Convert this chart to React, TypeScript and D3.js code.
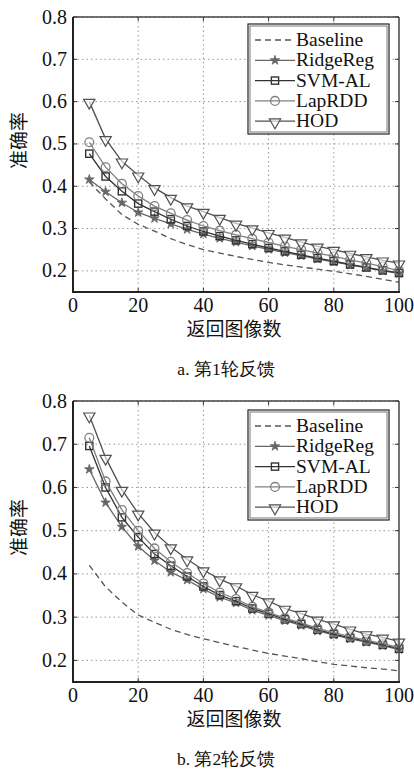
import React from 'react'
import * as d3 from 'd3'

// returned images (x axis)
const returnedImages = [5, 10, 15, 20, 25, 30, 35, 40, 45, 50, 55, 60, 65, 70, 75, 80, 85, 90, 95, 100]
const xTicks = [0, 20, 40, 60, 80, 100]
const yTicks = [0.2, 0.3, 0.4, 0.5, 0.6, 0.7, 0.8]
const seriesNames = ['Baseline', 'RidgeReg', 'SVM-AL', 'LapRDD', 'HOD']

// round 1 feedback
const r1Baseline = [0.41, 0.37, 0.333, 0.31, 0.294, 0.276, 0.262, 0.25, 0.242, 0.234, 0.227, 0.22, 0.214, 0.209, 0.204, 0.199, 0.193, 0.187, 0.18, 0.173]
const r1RidgeReg = [0.416, 0.387, 0.361, 0.338, 0.324, 0.311, 0.298, 0.287, 0.277, 0.268, 0.259, 0.251, 0.243, 0.236, 0.228, 0.221, 0.214, 0.207, 0.2, 0.194]
const r1SvmAl = [0.477, 0.423, 0.388, 0.359, 0.34, 0.322, 0.306, 0.293, 0.282, 0.272, 0.263, 0.254, 0.246, 0.238, 0.23, 0.223, 0.215, 0.208, 0.201, 0.195]
const r1LapRdd = [0.504, 0.445, 0.406, 0.377, 0.353, 0.336, 0.32, 0.306, 0.295, 0.285, 0.276, 0.267, 0.258, 0.25, 0.242, 0.234, 0.226, 0.218, 0.21, 0.2]
const r1Hod = [0.6, 0.512, 0.459, 0.426, 0.396, 0.373, 0.353, 0.34, 0.326, 0.312, 0.301, 0.29, 0.279, 0.268, 0.258, 0.25, 0.241, 0.233, 0.225, 0.218]

// round 2 feedback
const r2Baseline = [0.42, 0.37, 0.335, 0.305, 0.288, 0.272, 0.26, 0.25, 0.241, 0.232, 0.224, 0.216, 0.21, 0.204, 0.197, 0.191, 0.187, 0.183, 0.18, 0.176]
const r2RidgeReg = [0.642, 0.565, 0.509, 0.464, 0.431, 0.404, 0.386, 0.365, 0.346, 0.333, 0.316, 0.304, 0.292, 0.281, 0.268, 0.259, 0.25, 0.242, 0.234, 0.225]
const r2SvmAl = [0.696, 0.6, 0.531, 0.485, 0.446, 0.419, 0.394, 0.371, 0.351, 0.337, 0.32, 0.308, 0.295, 0.284, 0.271, 0.261, 0.252, 0.244, 0.236, 0.227]
const r2LapRdd = [0.715, 0.614, 0.548, 0.5, 0.459, 0.428, 0.402, 0.378, 0.357, 0.342, 0.324, 0.311, 0.298, 0.287, 0.274, 0.264, 0.255, 0.247, 0.239, 0.23]
const r2Hod = [0.767, 0.669, 0.595, 0.54, 0.496, 0.462, 0.434, 0.409, 0.388, 0.372, 0.352, 0.337, 0.32, 0.308, 0.295, 0.284, 0.272, 0.261, 0.253, 0.244]

const serif = '"Liberation Serif", "Times New Roman", serif'
const cjk = '"Noto Sans CJK SC", sans-serif'

const styles: Record<string, { color: string; dash?: string; marker?: string }> = {
  Baseline: { color: '#555', dash: '6 4' },
  RidgeReg: { color: '#666', marker: 'star' },
  'SVM-AL': { color: '#333', marker: 'square' },
  LapRDD: { color: '#808080', marker: 'circle' },
  HOD: { color: '#505050', marker: 'tri' },
}

const Marker = ({ type, x, y, color }: { type?: string; x: number; y: number; color: string }) => {
  if (type === 'star')
    return <path d={d3.symbol(d3.symbolStar, 28)()!} transform={`translate(${x},${y})`} fill={color} stroke={color} strokeWidth={0.8} />
  if (type === 'square')
    return <rect x={x - 3.6} y={y - 3.6} width={7.2} height={7.2} fill="none" stroke={color} strokeWidth={1.4} />
  if (type === 'circle') return <circle cx={x} cy={y} r={4.4} fill="none" stroke={color} strokeWidth={1.3} />
  if (type === 'tri')
    return <path d={d3.symbol(d3.symbolTriangle, 55)()!} transform={`translate(${x},${y + 1}) rotate(180)`} fill="#fff" fillOpacity={0.6} stroke={color} strokeWidth={1.2} />
  return null
}

const Panel = ({ top, bottom, series, caption, legendTop }: { top: number; bottom: number; series: number[][]; caption: string; legendTop: number }) => {
  const left = 73
  const right = 399
  const x = d3.scaleLinear().domain([0, 100]).range([left, right])
  const y = d3.scaleLinear().domain([0.15, 0.8]).range([bottom, top])
  const line = d3
    .line<number>()
    .x((_, i) => x(returnedImages[i]))
    .y((d) => y(d))
  const legLeft = 248
  const legRight = 389
  return (
    <g>
      {/* grid */}
      {xTicks.slice(1, -1).map((t) => (
        <line key={'gx' + t} x1={x(t)} x2={x(t)} y1={top} y2={bottom} stroke="#999" strokeDasharray="1.5 3" />
      ))}
      {yTicks.map((t) => (
        <line key={'gy' + t} x1={left} x2={right} y1={y(t)} y2={y(t)} stroke="#999" strokeDasharray="1.5 3" />
      ))}
      {/* inner ticks */}
      {xTicks.slice(1, -1).map((t) => (
        <g key={'tx' + t} stroke="#333">
          <line x1={x(t)} x2={x(t)} y1={top} y2={top + 4} />
          <line x1={x(t)} x2={x(t)} y1={bottom} y2={bottom - 4} />
        </g>
      ))}
      {yTicks.map((t) => (
        <g key={'ty' + t} stroke="#333">
          <line x1={left} x2={left + 4} y1={y(t)} y2={y(t)} />
          <line x1={right} x2={right - 4} y1={y(t)} y2={y(t)} />
        </g>
      ))}
      {/* series */}
      {seriesNames.map((name, si) => {
        const st = styles[name]
        return (
          <g key={name}>
            <path d={line(series[si])!} fill="none" stroke={st.color} strokeWidth={1.3} strokeDasharray={st.dash} />
            {st.marker &&
              series[si].map((v, i) => <Marker key={i} type={st.marker} x={x(returnedImages[i])} y={y(v)} color={st.color} />)}
          </g>
        )
      })}
      {/* frame */}
      <line x1={left} x2={right} y1={top} y2={top} stroke="#444" strokeWidth={1.5} />
      <line x1={right} x2={right} y1={top} y2={bottom} stroke="#444" strokeWidth={1.5} />
      <line x1={left} x2={left} y1={top} y2={bottom} stroke="#222" strokeWidth={2} />
      <line x1={left - 1} x2={right + 1} y1={bottom} y2={bottom} stroke="#222" strokeWidth={2} />
      {/* tick labels */}
      {yTicks.map((t) => (
        <text key={'ly' + t} x={67} y={y(t) + 6.5} textAnchor="end" fontFamily={serif} fontSize={20} fill="#111">
          {t.toFixed(1)}
        </text>
      ))}
      {xTicks.map((t) => (
        <text key={'lx' + t} x={x(t)} y={bottom + 20} textAnchor="middle" fontFamily={serif} fontSize={20} fill="#111">
          {t}
        </text>
      ))}
      <text x={234} y={bottom + 44} textAnchor="middle" fontFamily={cjk} fontSize={19} fill="#111">
        返回图像数
      </text>
      <text transform={`translate(26,${(top + bottom) / 2 - 14}) rotate(-90)`} textAnchor="middle" fontFamily={cjk} fontSize={19} fill="#111">
        准确率
      </text>
      <text x={226} y={bottom + 83} textAnchor="middle" fontFamily={serif} fontSize={17.5} fill="#111">
        {caption}
      </text>
      {/* legend */}
      <rect x={legLeft} y={legendTop} width={legRight - legLeft} height={110} fill="#fff" stroke="#222" strokeWidth={1.2} />
      <rect x={legLeft + 2} y={legendTop + 2} width={legRight - legLeft - 4} height={106} fill="none" stroke="#555" strokeWidth={0.8} />
      {seriesNames.map((name, i) => {
        const st = styles[name]
        const ly = legendTop + 16 + i * 20.3
        return (
          <g key={'leg' + name}>
            <line x1={255} x2={295} y1={ly} y2={ly} stroke={st.color} strokeWidth={1.3} strokeDasharray={st.dash} />
            <Marker type={st.marker} x={275} y={ly} color={st.color} />
            <text x={296} y={ly + 6} fontFamily={serif} fontSize={19.5} fill="#111">
              {name}
            </text>
          </g>
        )
      })}
    </g>
  )
}

const App = () => {
  return (
    <div style={{ position: 'absolute', left: 0, top: 0 }}>
      <svg width={414} height={769} style={{ display: 'block', background: '#fff' }}>
        <Panel top={17} bottom={292} legendTop={24} series={[r1Baseline, r1RidgeReg, r1SvmAl, r1LapRdd, r1Hod]} caption="a.  第1轮反馈" />
        <Panel top={401} bottom={682} legendTop={410} series={[r2Baseline, r2RidgeReg, r2SvmAl, r2LapRdd, r2Hod]} caption="b.  第2轮反馈" />
      </svg>
    </div>
  )
}

export default App
